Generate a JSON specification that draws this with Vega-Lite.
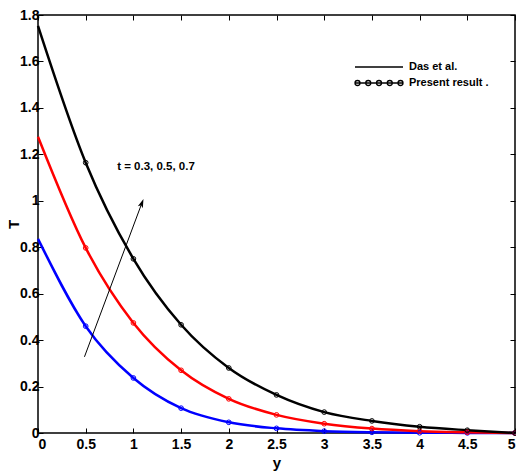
{
  "$schema": "https://vega.github.io/schema/vega-lite/v6.json",
  "width": 477,
  "height": 418,
  "autosize": {"type": "none"},
  "padding": {"left": 38, "top": 15, "right": 1, "bottom": 41},
  "background": "white",
  "config": {
    "view": {"stroke": "black", "strokeWidth": 1.5},
    "font": "Liberation Sans Narrow, Liberation Sans, Arial",
    "axis": {
      "domain": false,
      "grid": false,
      "tickColor": "black",
      "tickSize": -5,
      "tickWidth": 1,
      "labelFont": "Liberation Sans Narrow, Liberation Sans, Arial",
      "labelFontSize": 14,
      "labelFontWeight": "bold",
      "labelColor": "black",
      "titleFont": "Liberation Sans Narrow, Liberation Sans, Arial",
      "titleFontSize": 15,
      "titleFontWeight": "bold",
      "titleColor": "black"
    }
  },
  "datasets": {
    "curves": [
      {"x": 0, "T": 0.836, "t": "0.3"},
      {"x": 0.5, "T": 0.46, "t": "0.3"},
      {"x": 1, "T": 0.237, "t": "0.3"},
      {"x": 1.5, "T": 0.107, "t": "0.3"},
      {"x": 2, "T": 0.046, "t": "0.3"},
      {"x": 2.5, "T": 0.02, "t": "0.3"},
      {"x": 3, "T": 0.008, "t": "0.3"},
      {"x": 3.5, "T": 0.003, "t": "0.3"},
      {"x": 4, "T": 0.001, "t": "0.3"},
      {"x": 4.5, "T": 0.0005, "t": "0.3"},
      {"x": 5, "T": 0, "t": "0.3"},
      {"x": 0, "T": 1.276, "t": "0.5"},
      {"x": 0.5, "T": 0.797, "t": "0.5"},
      {"x": 1, "T": 0.474, "t": "0.5"},
      {"x": 1.5, "T": 0.27, "t": "0.5"},
      {"x": 2, "T": 0.147, "t": "0.5"},
      {"x": 2.5, "T": 0.078, "t": "0.5"},
      {"x": 3, "T": 0.04, "t": "0.5"},
      {"x": 3.5, "T": 0.019, "t": "0.5"},
      {"x": 4, "T": 0.008, "t": "0.5"},
      {"x": 4.5, "T": 0.003, "t": "0.5"},
      {"x": 5, "T": 0, "t": "0.5"},
      {"x": 0, "T": 1.753, "t": "0.7"},
      {"x": 0.5, "T": 1.164, "t": "0.7"},
      {"x": 1, "T": 0.75, "t": "0.7"},
      {"x": 1.5, "T": 0.466, "t": "0.7"},
      {"x": 2, "T": 0.28, "t": "0.7"},
      {"x": 2.5, "T": 0.164, "t": "0.7"},
      {"x": 3, "T": 0.09, "t": "0.7"},
      {"x": 3.5, "T": 0.052, "t": "0.7"},
      {"x": 4, "T": 0.027, "t": "0.7"},
      {"x": 4.5, "T": 0.012, "t": "0.7"},
      {"x": 5, "T": 0, "t": "0.7"}
    ],
    "arrow": [{"x": 0.487, "y": 0.328, "x2": 1.089, "y2": 0.99}],
    "label": [{"x": 1.237, "y": 1.147, "text": "t = 0.3, 0.5, 0.7"}],
    "legend": [{"s": "Das et al."}, {"s": "Present result ."}]
  },
  "layer": [
    {
      "data": {"name": "curves"},
      "mark": {"type": "line", "interpolate": "monotone", "strokeWidth": 2.5},
      "encoding": {
        "x": {"field": "x", "type": "quantitative", "scale": {"domain": [0, 5], "nice": false},
          "axis": {"orient": "bottom", "values": [0, 0.5, 1, 1.5, 2, 2.5, 3, 3.5, 4, 4.5, 5], "format": "~g", "title": "y", "labelPadding": 9, "titlePadding": 4}},
        "y": {"field": "T", "type": "quantitative", "scale": {"domain": [0, 1.8], "nice": false},
          "axis": {"orient": "left", "values": [0, 0.2, 0.4, 0.6, 0.8, 1, 1.2, 1.4, 1.6, 1.8], "format": "~g", "title": "T", "labelPadding": 4, "titlePadding": -2}},
        "color": {"field": "t", "type": "nominal", "scale": {"domain": ["0.3", "0.5", "0.7"], "range": ["#0000ff", "#ff0000", "#000000"]}, "legend": null}
      }
    },
    {
      "data": {"name": "curves"},
      "transform": [{"filter": "datum.x > 0"}],
      "mark": {"type": "point", "filled": false, "size": 22, "strokeWidth": 1, "opacity": 1},
      "encoding": {
        "x": {"field": "x", "type": "quantitative", "axis": {"orient": "top", "values": [0, 0.5, 1, 1.5, 2, 2.5, 3, 3.5, 4, 4.5, 5], "labels": false, "title": null}},
        "y": {"field": "T", "type": "quantitative", "axis": {"orient": "right", "values": [0, 0.2, 0.4, 0.6, 0.8, 1, 1.2, 1.4, 1.6, 1.8], "labels": false, "title": null}},
        "color": {"field": "t", "type": "nominal", "legend": null}
      }
    },
    {
      "data": {"name": "arrow"},
      "mark": {"type": "rule", "color": "black", "strokeWidth": 1},
      "encoding": {
        "x": {"field": "x", "type": "quantitative", "axis": null},
        "y": {"field": "y", "type": "quantitative", "axis": null},
        "x2": {"field": "x2"},
        "y2": {"field": "y2"}
      }
    },
    {
      "data": {"name": "arrow"},
      "mark": {"type": "point", "shape": "M0,-1L0.6,1L0,0.5L-0.6,1Z", "filled": true, "color": "black", "size": 80, "angle": 20.5, "opacity": 1},
      "encoding": {
        "x": {"field": "x2", "type": "quantitative", "axis": null},
        "y": {"field": "y2", "type": "quantitative", "axis": null}
      }
    },
    {
      "data": {"name": "label"},
      "mark": {"type": "text", "font": "Liberation Sans Narrow, Liberation Sans, Arial", "fontSize": 11.5, "fontWeight": "bold", "color": "black", "align": "center", "baseline": "middle"},
      "encoding": {
        "x": {"field": "x", "type": "quantitative", "axis": null},
        "y": {"field": "y", "type": "quantitative", "axis": null},
        "text": {"field": "text"}
      }
    },
    {
      "data": {"name": "legend"},
      "mark": {"type": "point", "opacity": 0},
      "encoding": {
        "shape": {"field": "s", "type": "nominal",
          "scale": {"domain": ["Das et al.", "Present result ."],
            "range": ["M-2.4,0H2.4", "M-2.4,0H2.4M-1.9,0a0.25,0.25 0 1,0 -0.5,0a0.25,0.25 0 1,0 0.5,0M-0.825,0a0.25,0.25 0 1,0 -0.5,0a0.25,0.25 0 1,0 0.5,0M0.25,0a0.25,0.25 0 1,0 -0.5,0a0.25,0.25 0 1,0 0.5,0M1.325,0a0.25,0.25 0 1,0 -0.5,0a0.25,0.25 0 1,0 0.5,0M2.4,0a0.25,0.25 0 1,0 -0.5,0a0.25,0.25 0 1,0 0.5,0"]},
          "legend": {"title": null, "orient": "none", "legendX": 330, "legendY": 41, "symbolSize": 400, "symbolOpacity": 1, "symbolStrokeColor": "black", "symbolFillColor": "transparent", "symbolStrokeWidth": 1.3, "labelFont": "Liberation Sans Narrow, Liberation Sans, Arial", "labelFontSize": 11, "labelFontWeight": "bold", "labelColor": "black", "rowPadding": 0, "labelOffset": 19}
        }
      }
    }
  ],
  "resolve": {"axis": {"x": "independent", "y": "independent"}}
}
